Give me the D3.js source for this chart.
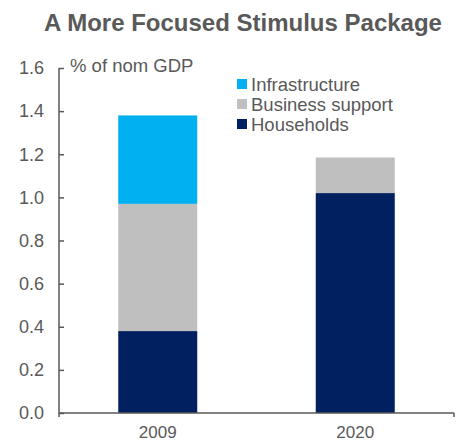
<!DOCTYPE html>
<html>
<head>
<meta charset="utf-8">
<script src="https://cdn.jsdelivr.net/npm/d3@7"></script>
<style>
  body { margin: 0; background: #fff; }
  text { font-family: "Liberation Sans", Arial, sans-serif; fill: #595959; }
</style>
</head>
<body>
<div class="canvas-graph"></div>
<script>
const years = ['2009', '2020'];
const households = [0.38, 1.02];
const business = [0.59, 0.165];
const infrastructure = [0.41, 0];
const seriesNames = ['Households', 'Business support', 'Infrastructure'];
const seriesColors = ['#002060', '#BFBFBF', '#00B0F0'];
const yTicks = [0, 0.2, 0.4, 0.6, 0.8, 1.0, 1.2, 1.4, 1.6];

const dims = { width: 456, height: 442 };
const plot = { left: 59, right: 454, top: 68, bottom: 413 };

const svg = d3.select('.canvas-graph')
    .append('svg')
    .attr('width', dims.width)
    .attr('height', dims.height);

svg.append('text')
    .attr('x', 243)
    .attr('y', 31)
    .attr('text-anchor', 'middle')
    .attr('font-size', 24)
    .attr('font-weight', 'bold')
    .text('A More Focused Stimulus Package');

const x = d3.scaleBand()
    .domain(years)
    .range([plot.left, plot.right])
    .paddingInner(0.6)
    .paddingOuter(0.3);

const y = d3.scaleLinear()
    .domain([0, 1.6])
    .range([plot.bottom, plot.top]);

const tableData = years.map((yr, i) => ({
    year: yr,
    Households: households[i],
    'Business support': business[i],
    Infrastructure: infrastructure[i]
}));

const stack = d3.stack().keys(seriesNames);
const color = d3.scaleOrdinal().domain(seriesNames).range(seriesColors);

svg.append('g')
    .selectAll('g')
    .data(stack(tableData))
    .enter()
    .append('g')
    .attr('fill', d => color(d.key))
    .selectAll('rect')
    .data(d => d)
    .enter()
    .append('rect')
    .attr('x', d => x(d.data.year))
    .attr('width', x.bandwidth())
    .attr('y', d => y(d[1]))
    .attr('height', d => y(d[0]) - y(d[1]));

// y axis, ticks pointing inward
const yAxis = svg.append('g')
    .attr('transform', `translate(${plot.left},0)`)
    .call(d3.axisRight(y).tickValues(yTicks).tickSize(5).tickFormat(d3.format('.1f')));
yAxis.select('.domain').remove();
yAxis.selectAll('.tick line').attr('stroke', '#595959').attr('stroke-width', 1.5);
yAxis.selectAll('.tick text')
    .attr('x', -15)
    .attr('text-anchor', 'end')
    .attr('font-size', 18)
    .attr('fill', '#595959');
yAxis.append('line')
    .attr('x1', 0).attr('x2', 0)
    .attr('y1', plot.top).attr('y2', plot.bottom + 4)
    .attr('stroke', '#595959').attr('stroke-width', 1.5);

// x axis
const xAxis = svg.append('g')
    .attr('transform', `translate(0,${plot.bottom})`)
    .call(d3.axisBottom(x).tickSize(0).tickPadding(13));
xAxis.select('.domain').remove();
xAxis.selectAll('.tick text').attr('font-size', 17).attr('fill', '#595959');
xAxis.append('line')
    .attr('x1', plot.left).attr('x2', plot.right)
    .attr('stroke', '#595959').attr('stroke-width', 1.5);
xAxis.append('line')
    .attr('x1', plot.right).attr('x2', plot.right)
    .attr('y1', 0).attr('y2', 4)
    .attr('stroke', '#595959').attr('stroke-width', 1.5);

svg.append('text')
    .attr('x', 70)
    .attr('y', 72)
    .attr('font-size', 18.5)
    .text('% of nom GDP');

// legend
const legendItems = seriesNames.slice().reverse();
const legendGroup = svg.append('g')
    .attr('transform', 'translate(237,84)');
const item = legendGroup.selectAll('g')
    .data(legendItems)
    .enter()
    .append('g')
    .attr('transform', (d, i) => `translate(0,${i * 20})`);
item.append('rect')
    .attr('x', 0).attr('y', -5)
    .attr('width', 10).attr('height', 10)
    .attr('fill', d => color(d));
item.append('text')
    .attr('x', 14)
    .attr('y', 6.5)
    .attr('font-size', 18.5)
    .text(d => d);
</script>
</body>
</html>
